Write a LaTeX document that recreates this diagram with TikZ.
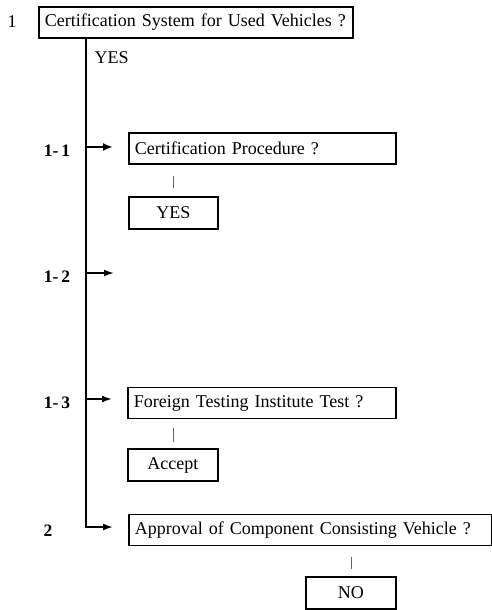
\documentclass[tikz,border=0pt]{standalone}
\usepackage{fontspec}
\setmainfont{Liberation Serif}
\usetikzlibrary{arrows.meta}
\begin{document}
\begin{tikzpicture}[x=1pt,y=-1pt,
  txt/.style={font=\fontsize{18}{20}\selectfont},
  qbox/.style={txt,draw,line width=1.9pt,anchor=west,align=left,inner xsep=5pt,inner ysep=0pt,minimum height=31pt},
  abox/.style={txt,draw,line width=1.9pt,anchor=west,align=center,inner sep=0pt,minimum height=32pt},
  numlbl/.style={font=\bfseries\fontsize{17.5}{19}\selectfont},
  trunk/.style={line width=2pt},
  branch/.style={line width=1.7pt,-{Latex[length=10pt,width=7pt]}},
  tick/.style={line width=0.7pt,black!60}]
\useasboundingbox (0,0) rectangle (492,610);

% question boxes
\node[qbox,minimum width=314pt,text width=302pt] (q1) at (38,22.5) {Certification System for Used Vehicles ?};
\node[qbox,minimum width=267pt,text width=255pt] (q11) at (128,148.5) {Certification Procedure ?};
\node[qbox,minimum width=268pt,text width=256pt] (q13) at (127,403) {Foreign Testing Institute Test ?};
\node[qbox,minimum width=363pt,text width=351pt] (q2) at (128,530) {Approval of Component Consisting Vehicle ?};

% answer boxes
\node[abox,minimum width=89pt] (a11) at (128,213) {YES};
\node[abox,minimum width=90pt] (a13) at (127,465) {Accept};
\node[abox,minimum width=90pt] (a2) at (305,593) {NO};

% numbering
\node[txt] (n1) at (12,22) {1};
\node[numlbl] (n11) at (57,151) {1-\,1};
\node[numlbl] (n12) at (57,277) {1-\,2};
\node[numlbl] (n13) at (57,403) {1-\,3};
\node[numlbl] (n2) at (48,531) {2};
\node[txt,anchor=west] (yes) at (91,58) {YES};

% trunk and branch points
\coordinate (top) at (86,38);
\coordinate (j11) at (86,147);
\coordinate (j12) at (86,273);
\coordinate (j13) at (86,399);
\coordinate (j2) at (86,527);
\coordinate (e11) at (113,147);
\coordinate (e12) at (114,273);
\coordinate (e13) at (112,399);
\coordinate (e2) at (113,527);

\draw[trunk] (top) -- (j2);
\draw[branch,line width=2.8pt,-{Latex[length=10pt,width=8pt]}] (j11) -- (e11);
\draw[branch] (j12) -- (e12);
\draw[branch] (j13) -- (e13);
\draw[branch] ([yshift=-1pt]j2) -- (j2) -- (e2);

% short ticks between question and answer
\draw[tick,shorten <=11pt,shorten >=8pt] (q11.south -| a11.north) -- (a11.north);
\draw[tick,shorten <=9pt,shorten >=6pt] (q13.south -| a13.north) -- (a13.north);
\draw[tick,shorten <=11pt,shorten >=7pt] (q2.south -| a2.north) -- (a2.north);
\end{tikzpicture}
\end{document}
